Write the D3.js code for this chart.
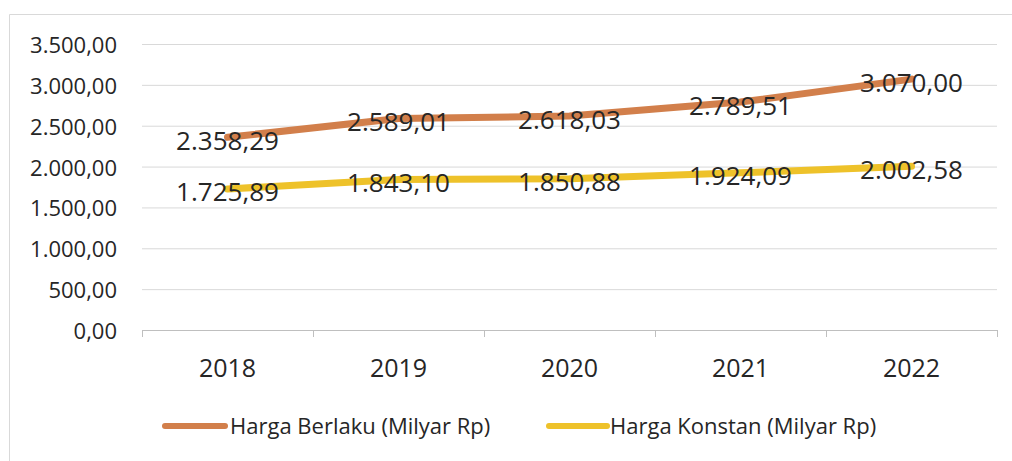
<!DOCTYPE html>
<html><head><meta charset="utf-8">
<script src="https://cdn.jsdelivr.net/npm/d3@7"></script>
<style>body{margin:0;background:#fff}svg{display:block}text{font-family:"Open Sans",sans-serif;fill:#262626}</style>
</head><body><svg id="c" width="1012" height="461"></svg>
<script>
const years = ["2018","2019","2020","2021","2022"];
const hargaBerlaku = [2358.29, 2589.01, 2618.03, 2789.51, 3070.00];
const hargaKonstan = [1725.89, 1843.10, 1850.88, 1924.09, 2002.58];
const yTicks = [0, 500, 1000, 1500, 2000, 2500, 3000, 3500];
const seriesNames = ["Harga Berlaku (Milyar Rp)", "Harga Konstan (Milyar Rp)"];

const colors = ["#D27F4B", "#EEC22A"];
const loc = d3.formatLocale({decimal:",", thousands:".", grouping:[3], currency:["Rp",""]});
const fmt = loc.format(",.2f");

const svg = d3.select("#c");
const L = 142, R = 997, T = 44, B = 330;

// frame
svg.append("path").attr("d","M9.5,461 V14.5 H1012").attr("fill","none").attr("stroke","#D9D9D9").attr("stroke-width",1);

const y = d3.scaleLinear().domain([0,3500]).range([B,T]);
const band = d3.scaleBand().domain(years).range([L,R]).padding(0);
const xp = d3.scalePoint().domain(years).range([L,R]).padding(0.5);

// y axis with gridlines
const ya = svg.append("g").attr("transform",`translate(${L},0)`)
  .call(d3.axisLeft(y).tickValues(yTicks).tickFormat(fmt).tickSizeInner(-(R-L)).tickSizeOuter(0).tickPadding(25));
ya.select(".domain").remove();
ya.selectAll(".tick line").attr("stroke","#D9D9D9").attr("stroke-width",1);
ya.selectAll(".tick text").attr("font-size",22).attr("dy",null).attr("y",8.5).style("font-family","Open Sans").attr("fill","#404040");

// x axis
svg.append("line").attr("x1",L).attr("x2",R).attr("y1",B+0.5).attr("y2",B+0.5).attr("stroke","#BFBFBF");
const edges = years.map(c=>band(c)).concat([band(years[years.length-1])+band.bandwidth()]);
svg.append("g").selectAll("line").data(edges).join("line")
  .attr("x1",d=>Math.round(d)+0.5).attr("x2",d=>Math.round(d)+0.5).attr("y1",B).attr("y2",B+7).attr("stroke","#BFBFBF");
svg.append("g").selectAll("text").data(years).join("text")
  .attr("x",d=>xp(d)).attr("y",377).attr("text-anchor","middle").attr("font-size",25).attr("fill","#404040").text(d=>d);

// lines
const line = d3.line().x((d,i)=>xp(years[i])).y(d=>y(d));
[hargaBerlaku, hargaKonstan].forEach((s,k)=>{
  svg.append("path").datum(s).attr("d",line).attr("fill","none").attr("stroke",colors[k])
    .attr("stroke-width",7).attr("stroke-linecap","round").attr("stroke-linejoin","round");
});
// data labels
[hargaBerlaku, hargaKonstan].forEach((s,k)=>{
  svg.append("g").selectAll("text").data(s).join("text")
    .attr("x",(d,i)=>xp(years[i])).attr("y",d=>y(d)+12.5).attr("text-anchor","middle")
    .attr("font-size",26).attr("fill","#262626").text(d=>fmt(d));
});

// legend
const leg = [{x1:165,x2:225,tx:230},{x1:549,x2:607,tx:610}];
leg.forEach((l,k)=>{
  svg.append("line").attr("x1",l.x1).attr("x2",l.x2).attr("y1",426).attr("y2",426)
    .attr("stroke",colors[k]).attr("stroke-width",6).attr("stroke-linecap","round");
  svg.append("text").attr("x",l.tx).attr("y",434).attr("font-size",22).attr("fill","#262626").text(seriesNames[k]);
});
</script></body></html>
